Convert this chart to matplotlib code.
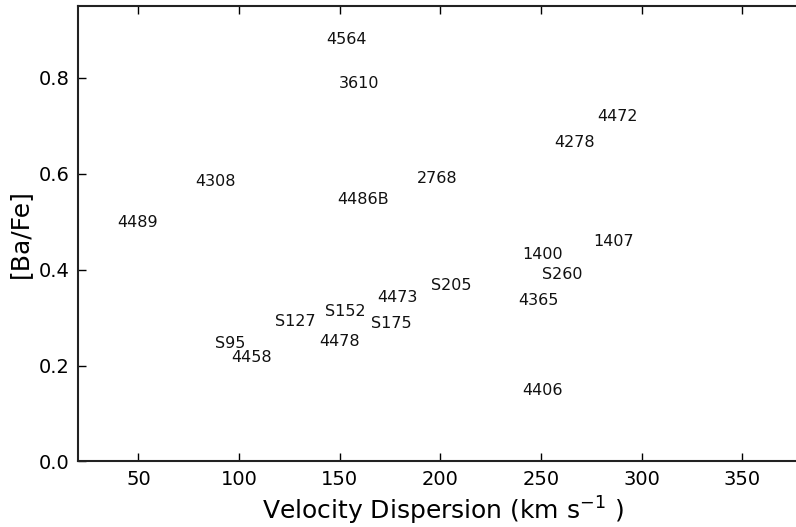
import matplotlib
matplotlib.use("Agg")
import matplotlib.pyplot as plt

names = ["4564", "3610", "4308", "4486B", "4489", "2768", "4472", "4278",
         "1407", "1400", "S260", "S205", "4365", "4406", "4473", "S175",
         "S152", "S127", "4478", "S95", "4458"]
sigma = [153.3, 159.6, 88.4, 161.6, 49.5, 198.5, 287.9, 266.6,
         286.0, 251.0, 260.6, 205.5, 248.7, 250.7, 178.7, 175.7,
         152.6, 127.7, 149.7, 95.6, 106.1]
bafe = [0.879, 0.789, 0.583, 0.547, 0.498, 0.591, 0.719, 0.665,
        0.459, 0.432, 0.390, 0.3675, 0.336, 0.147, 0.3415, 0.288,
        0.313, 0.2925, 0.251, 0.2467, 0.2166]

xticks = [50, 100, 150, 200, 250, 300, 350]
yticks = [0.0, 0.2, 0.4, 0.6, 0.8]

plt.rcParams['font.family'] = ['DejaVu Sans']
fig = plt.figure(figsize=(7.96, 5.27), dpi=100)
ax = fig.add_axes([0.098, 0.1243, 1.0135 - 0.098, 0.989 - 0.1243])

for n, x, y in zip(names, sigma, bafe):
    ax.text(x, y, n, ha='center', va='center', fontsize=11.5, color='#111111')

ax.set_xlim(20, 382)
ax.set_ylim(0, 0.95)
ax.set_xticks(xticks)
ax.set_yticks(yticks)
ax.set_yticklabels([f"{v:.1f}" for v in yticks])
ax.tick_params(direction='in', top=True, right=True, length=6, width=1,
               labelsize=14, pad=6)
for s in ax.spines.values():
    s.set_linewidth(1.5)
    s.set_color('#222222')
ax.set_xlabel("Velocity Dispersion (km s$^{-1}$ )", fontsize=18, labelpad=4)
ax.set_ylabel("[Ba/Fe]", fontsize=18, labelpad=5)

fig.savefig("out.png", dpi=100)
